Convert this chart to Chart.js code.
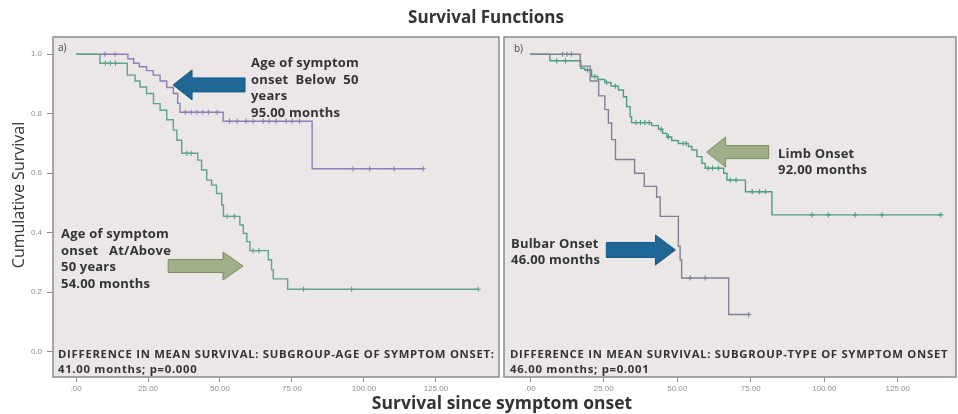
<!DOCTYPE html>
<html>
<head>
<meta charset="utf-8">
<script src="https://cdn.jsdelivr.net/npm/chart.js@4/dist/chart.umd.min.js"></script>
<style>
  body { margin:0; width:958px; height:414px; background:#fff; position:relative; overflow:hidden; font-family:"Open Sans", sans-serif; }
  canvas { position:absolute; top:0; }
  #panelA { left:0; }
  #panelB { left:500px; }
  .t { position:absolute; color:#333; font-weight:bold; white-space:nowrap; z-index:2; }
  .note { font-size:13px; line-height:16.7px; letter-spacing:0.2px; }
  .foot { font-size:11.3px; line-height:15px; letter-spacing:0.72px; }
  .tag { font-size:10px; font-weight:normal; color:#444; }
</style>
</head>
<body>
<canvas id="panelA" width="500" height="414"></canvas>
<canvas id="panelB" width="458" height="414"></canvas>

<div class="t" style="left:336px;top:6px;width:300px;text-align:center;font-size:17px;line-height:22px;">Survival Functions</div>
<div class="t" style="left:332px;top:391px;width:340px;text-align:center;font-size:17.5px;line-height:22px;">Survival since symptom onset</div>
<div class="t" style="left:-62px;top:184px;width:160px;text-align:center;font-size:16px;line-height:22px;font-weight:normal;transform:rotate(-90deg);">Cumulative Survival</div>

<div class="t tag" style="left:58px;top:40px;">a)</div>
<div class="t tag" style="left:514px;top:41px;">b)</div>

<div class="t note" style="left:251px;top:54px;">Age of symptom<br>onset&nbsp; Below&nbsp; 50<br>years<br>95.00 months</div>
<div class="t note" style="left:61px;top:225px;">Age of symptom<br>onset&nbsp;&nbsp; At/Above<br>50 years<br>54.00 months</div>
<div class="t note" style="left:778px;top:145px;line-height:16px;">Limb Onset<br>92.00 months</div>
<div class="t note" style="left:511px;top:235px;line-height:16px;">Bulbar Onset<br>46.00 months</div>

<div class="t foot" style="left:58px;top:346px;">DIFFERENCE IN MEAN SURVIVAL: SUBGROUP-AGE OF SYMPTOM ONSET:<br>41.00 months; p=0.000</div>
<div class="t foot" style="left:510px;top:346px;">DIFFERENCE IN MEAN SURVIVAL: SUBGROUP-TYPE OF SYMPTOM ONSET<br>46.00 months; p=0.001</div>

<script>
// Axis ticks
const xTicks = [0, 25, 50, 75, 100, 125];
const yTicks = [0, 0.2, 0.4, 0.6, 0.8, 1.0];

// a) Age of symptom onset below 50 years: event times (months) and survival after each step
const belowAgeT = [0, 18, 20, 22, 24.5, 26.8, 29.2, 31.5, 33.8, 35.3, 36.1, 51.1, 82.0, 120.6];
const belowAgeS = [1.0, 0.985, 0.97, 0.958, 0.945, 0.93, 0.91, 0.888, 0.868, 0.835, 0.805, 0.775, 0.615, 0.615];
const belowAgeCensored = [10, 13.5, 38, 40, 42, 44, 46, 49, 53.3, 56, 59, 61.5, 65, 67, 69.5, 73, 75, 77.6, 96.2, 102, 110.5, 120.6];

// a) Age of symptom onset at/above 50 years
const aboveAgeT = [0, 8.3, 17.8, 20.5, 22.2, 24.5, 26.9, 29.2, 31.5, 33.8, 35, 36.7, 42.3, 43.6, 45.4, 47.1, 48.8, 50.6, 51.2, 56.9, 58.1, 59.3, 60.4, 66.8, 67.9, 68.5, 73.5, 139.7];
const aboveAgeS = [1.0, 0.97, 0.93, 0.91, 0.89, 0.868, 0.834, 0.812, 0.78, 0.745, 0.711, 0.667, 0.644, 0.611, 0.577, 0.56, 0.532, 0.493, 0.455, 0.426, 0.398, 0.37, 0.34, 0.309, 0.275, 0.245, 0.21, 0.21];
const aboveAgeCensored = [10.2, 11.9, 13.7, 38.5, 40, 52.5, 55, 61.5, 63.5, 79, 95.7, 139.7];

// b) Bulbar onset
const bulbarT = [0, 17, 20.4, 23.3, 25.4, 26.6, 27.7, 29, 35.5, 38.8, 43, 44.2, 50.4, 51, 51.5, 67.5, 74.3];
const bulbarS = [1.0, 0.96, 0.91, 0.86, 0.814, 0.769, 0.713, 0.646, 0.6, 0.556, 0.52, 0.455, 0.354, 0.309, 0.248, 0.125, 0.125];
const bulbarCensored = [11, 12.5, 14, 54.4, 59.5, 74.3];

// b) Limb onset
const limbT = [0, 6.7, 17.2, 18.5, 20.9, 23, 25.4, 27.5, 30, 31.7, 32.8, 34, 34.5, 41.3, 43.6, 45, 46.5, 48.1, 50.4, 53.8, 55, 56.7, 58.4, 59.5, 65.8, 66.9, 73.2, 82.2, 139.6];
const limbS = [1.0, 0.978, 0.953, 0.947, 0.925, 0.915, 0.905, 0.893, 0.88, 0.857, 0.824, 0.79, 0.77, 0.76, 0.748, 0.734, 0.722, 0.71, 0.7, 0.69, 0.678, 0.656, 0.633, 0.617, 0.6, 0.577, 0.538, 0.46, 0.46];
const limbCensored = [9, 12, 19.5, 22, 26, 29, 36, 37.5, 39, 40.5, 44.5, 47, 52, 53, 60.5, 62, 64, 68, 70, 75.5, 78, 80, 95.8, 101.4, 110.5, 119.6, 139.6];

const COLORS = { below:'#8a80b8', above:'#5ea38a', bulbar:'#7f8194', limb:'#4f9d82' };

function stepPoints(ts, ss) { return ts.map((t, i) => ({ x:t, y:ss[i] })); }
function survivalAt(ts, ss, t) {
  let v = ss[0];
  for (let i = 0; i < ts.length; i++) if (ts[i] <= t) v = ss[i];
  return v;
}
function censorPoints(ts, ss, cs) { return cs.map(t => ({ x:t, y:survivalAt(ts, ss, t) })); }

function curve(ts, ss, color) {
  return { data: stepPoints(ts, ss), borderColor: color, borderWidth: 1.4, stepped: true, pointRadius: 0, fill: false };
}
function marks(ts, ss, cs, color) {
  return { data: censorPoints(ts, ss, cs), showLine: false, borderColor: color, backgroundColor: color,
           pointStyle: 'cross', pointRadius: 2.6, borderWidth: 1.1 };
}

// Block arrows placed in data coordinates
function drawArrow(chart, ar) {
  const ctx = chart.ctx, xs = chart.scales.x, ys = chart.scales.y;
  const tx = xs.getPixelForValue(ar.tip[0]), ty = ys.getPixelForValue(ar.tip[1]);
  const bx = xs.getPixelForValue(ar.tail);
  const dir = Math.sign(bx - tx);
  const hx = tx + dir * ar.head;
  ctx.save();
  ctx.beginPath();
  ctx.moveTo(tx, ty);
  ctx.lineTo(hx, ty - ar.headHalf);
  ctx.lineTo(hx, ty - ar.bodyHalf);
  ctx.lineTo(bx, ty - ar.bodyHalf);
  ctx.lineTo(bx, ty + ar.bodyHalf);
  ctx.lineTo(hx, ty + ar.bodyHalf);
  ctx.lineTo(hx, ty + ar.headHalf);
  ctx.closePath();
  ctx.fillStyle = ar.fill; ctx.fill();
  ctx.lineWidth = 1; ctx.strokeStyle = ar.stroke; ctx.stroke();
  ctx.restore();
}

const framePlugin = {
  id: 'frame',
  beforeDraw(chart) {
    const { ctx, chartArea: a } = chart;
    ctx.save();
    ctx.fillStyle = '#ebe7e7';
    ctx.fillRect(a.left, a.top, a.right - a.left, a.bottom - a.top);
    ctx.restore();
  },
  afterDatasetsDraw(chart) {
    (chart.options.plugins.frame.arrows || []).forEach(ar => drawArrow(chart, ar));
  },
  afterDraw(chart) {
    const { ctx, chartArea: a } = chart;
    ctx.save();
    ctx.strokeStyle = '#8c8c8c';
    ctx.lineWidth = 1.5;
    ctx.strokeRect(a.left, a.top, a.right - a.left, a.bottom - a.top);
    ctx.restore();
  }
};

const Y_MIN = -0.085, Y_MAX = 1.058;
const tickFont = { size: 8, family: 'Liberation Sans' };

function panel(id, cfg) {
  const yScale = {
    type: 'linear', min: Y_MIN, max: Y_MAX, display: cfg.showY,
    afterBuildTicks: s => { s.ticks = yTicks.map(v => ({ value: v })); },
    grid: { drawOnChartArea: false, drawTicks: true, tickLength: 6, color: '#8a8a8a' },
    border: { display: false },
    ticks: { callback: v => Number(v).toFixed(1), color: '#8f8f8f', font: tickFont, padding: 5 }
  };
  if (cfg.showY) yScale.afterFit = s => { s.width = 53; s.paddingTop = 0; s.paddingBottom = 0; };
  return new Chart(document.getElementById(id), {
    type: 'line',
    data: { datasets: cfg.datasets },
    options: {
      responsive: false, animation: false, devicePixelRatio: 1,
      layout: { padding: cfg.padding, autoPadding: false },
      plugins: { legend: { display: false }, tooltip: { enabled: false }, frame: { arrows: cfg.arrows } },
      scales: {
        x: {
          type: 'linear', min: cfg.xMin, max: cfg.xMax,
          afterBuildTicks: s => { s.ticks = xTicks.map(v => ({ value: v })); },
          afterFit: s => { s.height = 37; s.paddingLeft = 0; s.paddingRight = 0; },
          grid: { drawOnChartArea: false, drawTicks: true, tickLength: 5, color: '#8a8a8a' },
          border: { display: false },
          ticks: { callback: v => v === 0 ? '.00' : Number(v).toFixed(2), color: '#8f8f8f', font: tickFont,
                   padding: 2, maxRotation: 0, autoSkip: false }
        },
        y: yScale
      }
    },
    plugins: [framePlugin]
  });
}

panel('panelA', {
  xMin: -8, xMax: 146.9, showY: true,
  padding: { top: 37, right: 1, left: 0, bottom: 0 },
  datasets: [
    curve(aboveAgeT, aboveAgeS, COLORS.above),
    marks(aboveAgeT, aboveAgeS, aboveAgeCensored, COLORS.above),
    curve(belowAgeT, belowAgeS, COLORS.below),
    marks(belowAgeT, belowAgeS, belowAgeCensored, COLORS.below)
  ],
  arrows: [
    { tip: [33.7, 0.897], tail: 58.7, head: 19, headHalf: 15, bodyHalf: 7, fill: '#1f6796', stroke: '#185a85' },
    { tip: [58, 0.288], tail: 32, head: 20, headHalf: 14, bodyHalf: 6.5, fill: '#a1af88', stroke: '#7b8a63' }
  ]
});

panel('panelB', {
  xMin: -8.9, xMax: 144.8, showY: false,
  padding: { top: 37, right: 2, left: 4, bottom: 0 },
  datasets: [
    curve(bulbarT, bulbarS, COLORS.bulbar),
    marks(bulbarT, bulbarS, bulbarCensored, COLORS.bulbar),
    curve(limbT, limbS, COLORS.limb),
    marks(limbT, limbS, limbCensored, COLORS.limb)
  ],
  arrows: [
    { tip: [60, 0.671], tail: 81.1, head: 19, headHalf: 15, bodyHalf: 6.5, fill: '#a1af88', stroke: '#7b8a63' },
    { tip: [49.4, 0.342], tail: 25.9, head: 20, headHalf: 15, bodyHalf: 7.5, fill: '#1f6796', stroke: '#185a85' }
  ]
});
</script>
</body>
</html>
